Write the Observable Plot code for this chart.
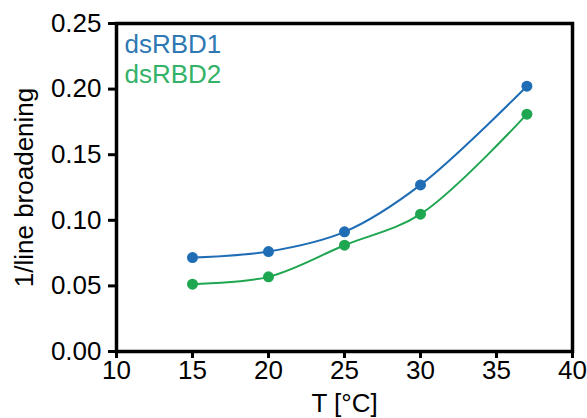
<!DOCTYPE html>
<html>
<head>
<meta charset="utf-8">
<script src="https://cdn.jsdelivr.net/npm/d3@7"></script>
<script src="https://cdn.jsdelivr.net/npm/@observablehq/plot@0.6"></script>
<style>
  html, body { margin: 0; padding: 0; background: #fff; }
  svg { display: block; }
</style>
</head>
<body>
<div id="chart"></div>
<script>
const temps = [15, 20, 25, 30, 37];
const seriesNames = ["dsRBD1", "dsRBD2"];
const dsRBD1 = [0.0716, 0.0762, 0.0912, 0.1270, 0.2022];
const dsRBD2 = [0.0513, 0.0569, 0.0810, 0.1047, 0.1809];
const seriesColors = ["#1f6db5", "#1ea650"];
const labelColors = ["#2e78b3", "#33b268"];
const xTicks = [10, 15, 20, 25, 30, 35, 40];
const yTicks = [0, 0.05, 0.10, 0.15, 0.20, 0.25];

const values = [dsRBD1, dsRBD2];
const data = seriesNames.flatMap((s, i) => temps.map((t, j) => ({series: s, T: t, v: values[i][j]})));

const FS = 26;
const plot = Plot.plot({
  width: 587,
  height: 418,
  marginLeft: 116,
  marginRight: 15,
  marginTop: 23,
  marginBottom: 67,
  style: {fontFamily: "Liberation Sans, Arial, sans-serif", fontSize: FS + "px", color: "#000", background: "#fff"},
  x: {domain: [10, 40]},
  y: {domain: [0, 0.25]},
  color: {domain: seriesNames, range: seriesColors},
  marks: [
    Plot.axisX({ticks: xTicks, tickSize: 7, tickPadding: 2, strokeWidth: 3, stroke: "#000", strokeOpacity: 1, fontSize: FS, label: "T [°C]", labelAnchor: "center", labelArrow: "none", labelOffset: 60, fill: "#000"}),
    Plot.axisY({ticks: yTicks, tickFormat: d3.format(".2f"), tickSize: 8, tickPadding: 7, strokeWidth: 3, stroke: "#000", strokeOpacity: 1, fontSize: FS, label: "1/line broadening", labelAnchor: "center", labelArrow: "none", labelOffset: 102, fill: "#000"}),
    Plot.line(data, {x: "T", y: "v", z: "series", stroke: "series", strokeWidth: 2, curve: "catmull-rom"}),
    Plot.dot(data, {x: "T", y: "v", fill: "series", r: 5.5}),
    Plot.text([seriesNames[0]], {text: (d) => d, fill: labelColors[0], frameAnchor: "top-left", dx: 8, dy: 11, textAnchor: "start", lineAnchor: "top", fontSize: FS}),
    Plot.text([seriesNames[1]], {text: (d) => d, fill: labelColors[1], frameAnchor: "top-left", dx: 8, dy: 41, textAnchor: "start", lineAnchor: "top", fontSize: FS}),
    Plot.frame({stroke: "#000", strokeWidth: 3.5, strokeOpacity: 1})
  ]
});
document.getElementById("chart").appendChild(plot);
</script>
</body>
</html>
